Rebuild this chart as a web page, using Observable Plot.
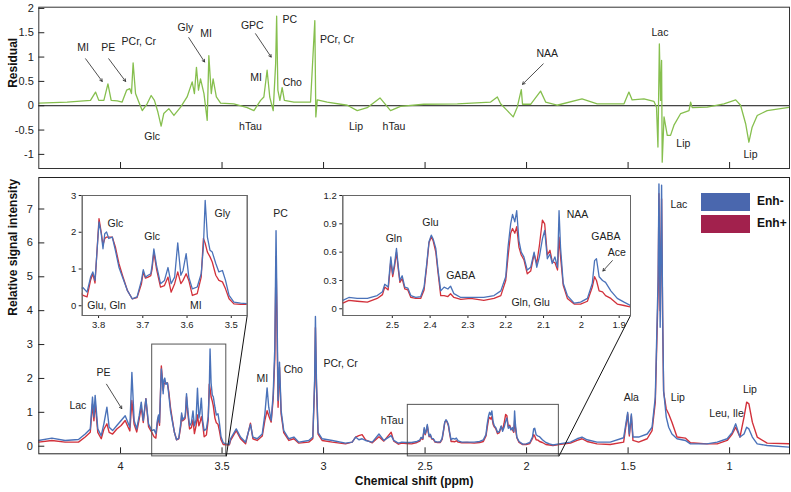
<!DOCTYPE html>
<html><head><meta charset="utf-8">
<script src="https://cdn.jsdelivr.net/npm/d3@7"></script>
<script src="https://cdn.jsdelivr.net/npm/@observablehq/plot@0.6"></script>
<style>
body{margin:0;background:#fff;}
#chart{position:relative;width:791px;height:492px;overflow:hidden;font-family:"Liberation Sans",Arial,sans-serif;background:#fff;}
#chart svg{position:absolute;left:0;top:0;}
.leg{position:absolute;}
.legtxt{position:absolute;font-weight:bold;font-size:12px;color:#111;}
</style></head><body><div id="chart"></div>
<script>
// ---------- DATA ----------
// Residual (top panel)
const residualPpm = [4.402,4.263,4.148,4.123,4.107,4.082,4.062,4.046,4.016,3.992,3.970,3.954,3.946,3.938,3.926,3.910,3.893,3.869,3.849,3.833,3.816,3.800,3.787,3.762,3.737,3.704,3.672,3.647,3.636,3.626,3.616,3.606,3.589,3.573,3.565,3.553,3.544,3.528,3.507,3.442,3.376,3.343,3.310,3.294,3.278,3.265,3.248,3.236,3.231,3.225,3.215,3.204,3.193,3.146,3.064,3.043,3.038,3.031,2.982,2.883,2.834,2.785,2.722,2.670,2.621,2.506,2.341,2.177,2.144,2.128,2.095,2.066,2.046,2.026,2.020,1.980,1.931,1.906,1.850,1.727,1.652,1.520,1.496,1.480,1.422,1.373,1.360,1.353,1.346,1.340,1.335,1.332,1.323,1.307,1.291,1.274,1.241,1.200,1.192,1.184,1.110,1.028,0.970,0.946,0.921,0.905,0.889,0.864,0.815,0.749,0.700];
const residualValue = [0.055,0.075,0.11,0.28,0.11,0.11,0.45,0.11,0.10,0.075,0.32,0.35,0.25,0.88,0.25,0.075,-0.10,0.04,0.21,0.11,-0.13,-0.42,-0.16,-0.06,-0.20,-0.03,0.18,0.49,0.25,0.79,0.32,0.55,0.25,-0.30,1.03,0.25,0.55,0.18,0.055,0.04,-0.04,-0.10,0.11,0.18,0.73,0.18,-0.10,0.86,1.84,0.32,0.11,0.37,0.11,0.075,0.075,1.75,-0.23,0.12,0.075,0.01,-0.10,-0.04,0.16,-0.10,-0.015,0.03,0.04,0.075,0.18,0.04,-0.10,-0.23,-0.03,0.33,0.03,0.03,0.30,0.075,0.01,0.14,0.04,0.04,0.28,0.12,0.14,0.09,-0.03,-0.85,1.27,0.11,0.93,-1.16,-0.23,-0.61,-0.61,-0.40,-0.16,-0.10,0.075,-0.04,-0.03,0.04,0.12,0.01,-0.37,-0.75,-0.44,-0.20,-0.10,-0.06,-0.03];

// Spectrum (bottom panel): chemical shift, Enh- and Enh+ intensities
const specPpm = [4.404,4.338,4.273,4.207,4.174,4.149,4.138,4.131,4.125,4.112,4.095,4.082,4.067,4.056,4.039,4.018,3.997,3.977,3.964,3.954,3.944,3.933,3.920,3.908,3.898,3.888,3.875,3.862,3.846,
3.835,3.826,3.818,3.813,3.808,3.799,3.794,3.790,3.786,3.782,3.777,3.769,3.762,3.754,3.746,3.735,3.724,3.713,3.703,3.699,3.694,3.688,3.682,3.679,3.675,3.669,3.660,3.651,3.643,3.636,3.628,3.621,3.614,3.609,3.602,3.596,3.588,3.577,3.568,3.563,3.559,3.554,3.548,3.543,3.535,3.528,3.520,3.513,3.505,3.494,3.479,3.464,
3.458,3.430,3.409,3.384,3.360,3.348,3.327,3.302,3.289,3.278,3.270,3.258,3.248,3.240,3.234,3.229,3.224,3.217,3.209,3.196,3.171,3.146,3.122,3.073,3.053,3.044,3.040,3.035,3.027,3.007,2.957,2.892,2.859,2.842,2.826,2.810,2.793,2.760,2.727,2.703,2.667,2.654,2.640,
2.631,2.615,2.593,2.566,2.540,2.526,2.520,2.511,2.504,2.499,2.494,2.489,2.484,2.480,2.474,2.467,2.459,2.451,2.438,2.425,2.416,2.409,2.403,2.397,2.392,2.385,2.379,2.372,2.363,2.353,2.346,2.337,2.319,2.293,2.258,2.231,2.213,2.200,2.194,2.187,2.182,2.176,2.171,2.165,2.159,2.152,2.143,2.134,2.125,2.118,2.111,2.103,2.097,2.090,2.083,2.077,2.070,2.063,2.059,2.055,2.048,2.037,2.019,2.002,1.984,1.971,1.965,1.960,1.953,1.944,1.936,1.922,1.905,1.887,1.870,
1.841,1.784,1.751,1.727,1.702,1.653,1.588,1.522,1.502,1.494,1.484,1.476,1.448,1.406,1.382,1.366,1.352,1.348,1.342,1.335,1.330,1.325,1.312,1.300,1.284,1.259,1.218,1.193,1.112,1.061,1.012,0.987,0.970,0.949,0.929,0.916,0.905,0.888,0.864,0.815,0.700];
const enhMinus = [0.17,0.24,0.17,0.20,0.36,0.51,1.45,0.86,1.50,0.51,0.31,0.66,1.15,0.56,0.46,0.61,0.76,0.90,0.71,0.56,2.18,0.76,0.51,0.90,1.30,0.76,1.40,0.66,0.46,
0.49,0.37,0.78,0.92,0.69,2.28,1.96,1.55,1.96,2.01,1.83,1.87,1.51,1.05,0.78,0.42,0.19,0.24,0.69,0.98,0.78,0.83,0.87,1.10,1.55,1.10,0.60,0.69,1.04,0.60,0.78,1.71,0.83,0.96,1.42,0.78,0.46,0.51,0.87,1.60,2.87,1.87,1.51,1.46,1.15,0.92,0.96,0.69,0.28,0.10,0.07,0.06,
0.22,0.51,0.27,0.12,0.64,0.27,0.22,0.36,0.95,1.72,1.15,0.76,1.54,2.92,6.36,3.90,1.35,2.48,1.05,0.46,0.22,0.27,0.12,0.17,0.27,1.94,3.83,1.94,0.41,0.22,0.17,0.09,0.12,0.27,0.19,0.22,0.17,0.12,0.36,0.17,0.31,0.17,0.12,
0.09,0.12,0.11,0.11,0.14,0.18,0.26,0.23,0.55,0.37,0.48,0.64,0.44,0.30,0.35,0.23,0.22,0.14,0.12,0.13,0.23,0.48,0.71,0.78,0.74,0.64,0.41,0.19,0.23,0.21,0.24,0.16,0.12,0.12,0.12,0.14,0.19,0.34,0.65,0.90,1.00,0.92,1.04,0.72,0.60,0.55,0.41,0.44,0.60,0.44,0.55,0.74,0.83,0.53,0.58,0.48,0.55,0.44,1.04,0.65,0.27,0.14,0.06,0.07,0.11,0.27,0.51,0.53,0.34,0.30,0.28,0.19,0.11,0.07,0.035,
0.07,0.12,0.22,0.27,0.19,0.12,0.12,0.25,1.00,0.36,0.95,0.27,0.27,0.36,0.56,1.45,5.00,7.74,3.51,7.70,4.00,1.64,0.86,0.56,0.36,0.22,0.17,0.07,0.07,0.12,0.22,0.41,0.66,0.27,0.36,0.56,0.51,0.27,0.07,0.02,-0.03];
const enhPlus = [0.12,0.17,0.12,0.12,0.27,0.41,1.25,0.75,1.30,0.41,0.22,0.50,0.66,0.41,0.36,0.51,0.61,0.76,0.58,0.45,1.35,0.65,0.42,0.80,1.15,0.70,1.40,0.58,0.41,
0.28,0.24,0.70,0.87,0.62,2.37,2.00,1.65,1.83,1.87,1.87,1.87,1.60,1.15,0.83,0.42,0.19,0.22,0.60,0.92,0.75,0.78,0.82,1.00,1.46,1.00,0.51,0.55,0.78,0.37,0.60,0.92,0.60,0.69,0.87,0.69,0.28,0.33,0.78,1.83,1.70,1.46,1.33,1.19,0.83,0.69,0.65,0.46,0.19,0.05,0.04,0.04,
0.17,0.46,0.22,0.07,0.68,0.22,0.17,0.30,0.76,1.05,0.90,0.71,1.40,2.60,5.60,3.40,1.15,2.33,0.95,0.40,0.17,0.22,0.09,0.12,0.22,1.80,3.50,1.80,0.36,0.17,0.12,0.07,0.12,0.27,0.31,0.34,0.19,0.10,0.28,0.15,0.41,0.15,0.10,
0.06,0.09,0.08,0.07,0.11,0.15,0.23,0.20,0.51,0.34,0.45,0.60,0.41,0.28,0.32,0.21,0.20,0.12,0.11,0.11,0.20,0.45,0.70,0.76,0.72,0.60,0.38,0.14,0.14,0.13,0.16,0.12,0.10,0.11,0.09,0.11,0.14,0.30,0.55,0.80,0.85,0.80,0.87,0.65,0.57,0.52,0.37,0.40,0.58,0.48,0.67,0.94,0.90,0.57,0.62,0.50,0.49,0.41,0.76,0.55,0.25,0.11,0.05,0.05,0.08,0.23,0.34,0.30,0.19,0.18,0.14,0.11,0.05,0.035,0.02,
0.05,0.09,0.17,0.22,0.14,0.07,0.05,0.12,0.95,0.30,0.90,0.17,0.12,0.22,0.46,1.30,4.60,7.45,4.00,7.30,3.80,1.60,1.10,0.95,0.71,0.27,0.24,0.10,0.07,0.07,0.17,0.36,0.56,0.27,0.86,1.30,1.25,0.71,0.27,0.09,0.07];

// Axis ticks
const mainXTicks = [4,3.5,3,2.5,2,1.5,1];
const mainYTicks = [0,1,2,3,4,5,6,7];
const resYTicks = [-1,-0.5,0,0.5,1,1.5,2];
const inset1XTicks = [3.8,3.7,3.6,3.5];
const inset1YTicks = [0,1,2,3];
const inset2XTicks = [2.5,2.4,2.3,2.2,2.1,2,1.9];
const inset2YTicks = [0,0.3,0.6,0.9,1.2];

// Zoom regions (ppm and intensity extents)
const zoom1Ppm = [3.844,3.479], zoom1Int = [-0.3,3.0];
const zoom2Ppm = [2.585,1.841], zoom2Int = [-0.3,1.22];

// Labels
const resLabelText = ["MI","PE","PCr, Cr","Gly","MI","Glc","hTau","GPC","PC","MI","Cho","PCr, Cr","Lip","hTau","NAA","Lac","Lip","Lip"];
const resLabelPpm  = [4.184,4.06,3.91,3.68,3.578,3.844,3.36,3.351,3.166,3.332,3.154,2.933,2.84,2.653,1.898,1.343,1.228,0.897];
const resLabelVal  = [1.2,1.2,1.31,1.61,1.48,-0.645,-0.42,1.65,1.77,0.575,0.465,1.355,-0.425,-0.425,1.07,1.5,-0.78,-1.0];
const resArrowFromPpm = [4.172,4.058,3.664,3.335,1.918];
const resArrowFromVal = [0.965,0.965,1.40,1.48,0.86];
const resArrowToPpm = [4.09,3.975,3.586,3.258,2.02];
const resArrowToVal = [0.5,0.5,0.90,1.0,0.44];

const mainLabelText = ["Lac","PE","MI","PC","Cho","PCr, Cr","hTau","Ala","Lip","Lac","Leu, Ile","Lip"];
const mainLabelPpm  = [4.21,4.084,3.302,3.212,3.149,2.916,2.662,1.484,1.255,1.25,1.015,0.9];
const mainLabelVal  = [1.2,2.17,2.0,6.86,2.25,2.43,0.76,1.42,1.42,7.13,0.96,1.66];
const mainArrowFrom = [4.069,1.83], mainArrowTo = [3.994,1.11];

const in1LabelText = ["Glc","Glc","Gly","Glu, Gln","MI"];
const in1LabelPpm = [3.762,3.679,3.52,3.782,3.58];
const in1LabelVal = [2.24,1.87,2.5,0.0,0.0];

const in2LabelText = ["Gln","Glu","GABA","Gln, Glu","NAA","GABA","Ace"];
const in2LabelPpm = [2.496,2.399,2.319,2.134,2.01,1.935,1.906];
const in2LabelVal = [0.74,0.91,0.35,0.07,1.0,0.76,0.6];
const in2ArrowFrom = [1.918,0.51], in2ArrowTo = [1.943,0.40];

const seriesNames = ["Enh-","Enh+"];

// ---------- BUILD ----------
const W = 791, H = 492;
const BLUE = "#4a72b9", RED = "#d2313b", GREEN = "#86bf4e";
const LEG_BLUE = "#4a67ae", LEG_RED = "#a2214d";
const FONT = "'Liberation Sans', Arial, Helvetica, sans-serif";

const spectrum = specPpm.map((p,i)=>({ppm:p, minus:enhMinus[i], plus:enhPlus[i]}));
const residual = residualPpm.map((p,i)=>({ppm:p, v:residualValue[i]}));
const mk = (t,p,v)=>t.map((s,i)=>({t:s, ppm:p[i], v:v[i]}));

const mainBox = {l:38.3, r:789, t:177, b:453.3};
const topBox = {l:38.3, r:789, t:6.7, b:168};
const in1Box = {l:81.7, r:246.7, t:195, b:315};
const in2Box = {l:342.3, r:630, t:195, b:315};

const xDom = [4.4025, 0.705];
const mainYDom = [-0.224, 7.93];
const resYDom = [-1.29, 2.025];
const in1XDom = [3.837, 3.464], in1YDom = [-0.265, 3.0];
const in2XDom = [2.631, 1.870], in2YDom = [-0.071, 1.2];

const margins = b => ({marginLeft:b.l, marginRight:W-b.r, marginTop:b.t, marginBottom:H-b.b});
const baseStyle = {background:"transparent", fontFamily:FONT, fontSize:"11px", color:"#222", overflow:"visible"};
const pxToX = (dom,b,px)=> Math.abs(dom[0]-dom[1])*px/(b.r-b.l);
const pxToY = (dom,b,px)=> Math.abs(dom[1]-dom[0])*px/(b.b-b.t);
const fmt = d => String(d);

const container = document.getElementById("chart");

// Top residual panel
const resPlot = Plot.plot({
  width:W, height:H, ...margins(topBox), style:baseStyle,
  x:{domain:xDom, axis:null},
  y:{domain:resYDom, ticks:resYTicks, tickSize:0, tickPadding:5, tickFormat:fmt, label:null},
  marks:[
    Plot.ruleY([0], {stroke:"#111", strokeWidth:1}),
    Plot.line(residual, {x:"ppm", y:"v", stroke:GREEN, strokeWidth:1.3, clip:true}),
    Plot.ruleY(resYTicks, {x1:xDom[0], x2:xDom[0]-pxToX(xDom,topBox,6), stroke:"#222"}),
    Plot.ruleX(mainXTicks, {y1:resYDom[0], y2:resYDom[0]+pxToY(resYDom,topBox,6), stroke:"#222"}),
    Plot.frame({stroke:"#333"}),
    Plot.text(mk(resLabelText,resLabelPpm,resLabelVal), {x:"ppm", y:"v", text:"t", fontSize:10.5, fill:"#222"}),
    Plot.arrow(resArrowFromPpm.map((p,i)=>({x1:p,y1:resArrowFromVal[i],x2:resArrowToPpm[i],y2:resArrowToVal[i]})),
      {x1:"x1",y1:"y1",x2:"x2",y2:"y2", stroke:"#222", strokeWidth:0.8, headLength:5}),
    Plot.text(["Residual"], {text:d=>d, frameAnchor:"left", rotate:-90, dx:-26, fontWeight:"bold", fontSize:12, fill:"#111"})
  ]
});

// Main spectrum panel
const mainPlot = Plot.plot({
  width:W, height:H, ...margins(mainBox), style:baseStyle,
  x:{domain:xDom, ticks:mainXTicks, tickSize:0, tickPadding:8, tickFormat:fmt, label:null},
  y:{domain:mainYDom, ticks:mainYTicks, tickSize:0, tickPadding:6, tickFormat:fmt, label:null},
  marks:[
    Plot.line(spectrum, {x:"ppm", y:"plus", stroke:RED, strokeWidth:1.4, clip:true}),
    Plot.line(spectrum, {x:"ppm", y:"minus", stroke:BLUE, strokeWidth:1.4, clip:true}),
    Plot.rect([{x1:zoom1Ppm[0],x2:zoom1Ppm[1],y1:zoom1Int[0],y2:zoom1Int[1]},{x1:zoom2Ppm[0],x2:zoom2Ppm[1],y1:zoom2Int[0],y2:zoom2Int[1]}],
      {x1:"x1",x2:"x2",y1:"y1",y2:"y2", fill:"none", stroke:"#555", strokeWidth:1}),
    Plot.ruleY(mainYTicks, {x1:xDom[0], x2:xDom[0]-pxToX(xDom,mainBox,6), stroke:"#222"}),
    Plot.ruleX(mainXTicks, {y1:mainYDom[0], y2:mainYDom[0]+pxToY(mainYDom,mainBox,6), stroke:"#222"}),
    Plot.frame({stroke:"#222"}),
    Plot.text(mk(mainLabelText,mainLabelPpm,mainLabelVal), {x:"ppm", y:"v", text:"t", fontSize:10.5, fill:"#222"}),
    Plot.arrow([{x1:mainArrowFrom[0],y1:mainArrowFrom[1],x2:mainArrowTo[0],y2:mainArrowTo[1]}],
      {x1:"x1",y1:"y1",x2:"x2",y2:"y2", stroke:"#222", strokeWidth:0.8, headLength:5}),
    Plot.text(["Relative signal intensity"], {text:d=>d, frameAnchor:"left", rotate:-90, dx:-26, fontWeight:"bold", fontSize:12, fill:"#111"}),
    Plot.text(["Chemical shift (ppm)"], {text:d=>d, frameAnchor:"bottom", dy:31, fontWeight:"bold", fontSize:12, fill:"#111"})
  ]
});

// Inset 1
const insetStyle = {...baseStyle, fontSize:"9.5px"};
const in1Plot = Plot.plot({
  width:W, height:H, ...margins(in1Box), style:insetStyle,
  x:{domain:in1XDom, ticks:inset1XTicks, tickSize:3, tickPadding:3, tickFormat:fmt, label:null},
  y:{domain:in1YDom, ticks:inset1YTicks, tickSize:3, tickPadding:3, tickFormat:fmt, label:null},
  marks:[
    Plot.frame({fill:"white", stroke:"#666"}),
    Plot.line(spectrum, {x:"ppm", y:"plus", stroke:RED, strokeWidth:1.3, clip:true}),
    Plot.line(spectrum, {x:"ppm", y:"minus", stroke:BLUE, strokeWidth:1.3, clip:true}),
    Plot.frame({stroke:"#666"}),
    Plot.text(mk(in1LabelText,in1LabelPpm,in1LabelVal), {x:"ppm", y:"v", text:"t", fontSize:10.5, fill:"#222"})
  ]
});

// Inset 2
const in2Plot = Plot.plot({
  width:W, height:H, ...margins(in2Box), style:insetStyle,
  x:{domain:in2XDom, ticks:inset2XTicks, tickSize:3, tickPadding:3, tickFormat:fmt, label:null},
  y:{domain:in2YDom, ticks:inset2YTicks, tickSize:3, tickPadding:3, tickFormat:fmt, label:null},
  marks:[
    Plot.frame({fill:"white", stroke:"#666"}),
    Plot.line(spectrum, {x:"ppm", y:"plus", stroke:RED, strokeWidth:1.3, clip:true}),
    Plot.line(spectrum, {x:"ppm", y:"minus", stroke:BLUE, strokeWidth:1.3, clip:true}),
    Plot.frame({stroke:"#666"}),
    Plot.text(mk(in2LabelText,in2LabelPpm,in2LabelVal), {x:"ppm", y:"v", text:"t", fontSize:10.5, fill:"#222"}),
    Plot.arrow([{x1:in2ArrowFrom[0],y1:in2ArrowFrom[1],x2:in2ArrowTo[0],y2:in2ArrowTo[1]}],
      {x1:"x1",y1:"y1",x2:"x2",y2:"y2", stroke:"#222", strokeWidth:0.8, headLength:5})
  ]
});

// Connector lines from zoom boxes to insets (computed through the scales)
const mx = mainPlot.scale("x"), my = mainPlot.scale("y");
const a1x = in1Plot.scale("x"), a1y = in1Plot.scale("y");
const a2x = in2Plot.scale("x"), a2y = in2Plot.scale("y");
const connectors = [
  {x1:mx.apply(zoom1Ppm[1]), y1:my.apply(zoom1Int[0]), x2:a1x.apply(in1XDom[1]), y2:a1y.apply(in1YDom[0])},
  {x1:mx.apply(zoom2Ppm[1]), y1:my.apply(zoom2Int[0]), x2:a2x.apply(in2XDom[1]), y2:a2y.apply(in2YDom[0])}
];
const linkPlot = Plot.plot({
  width:W, height:H, margin:0, style:baseStyle,
  x:{type:"identity", axis:null}, y:{type:"identity", axis:null},
  marks:[Plot.link(connectors, {x1:"x1",y1:"y1",x2:"x2",y2:"y2", stroke:"#111", strokeWidth:1})]
});

container.append(resPlot, mainPlot, linkPlot, in1Plot, in2Plot);

// Legend
const legColors = [LEG_BLUE, LEG_RED];
seriesNames.forEach((name,i)=>{
  const sw = document.createElement("div");
  sw.className = "leg";
  Object.assign(sw.style, {left:"701px", top:(193+i*22)+"px", width:"49px", height:"18px", background:legColors[i]});
  container.append(sw);
  const tx = document.createElement("div");
  tx.className = "legtxt";
  tx.textContent = name;
  Object.assign(tx.style, {left:"757px", top:(194+i*22)+"px"});
  container.append(tx);
});
</script></body></html>
